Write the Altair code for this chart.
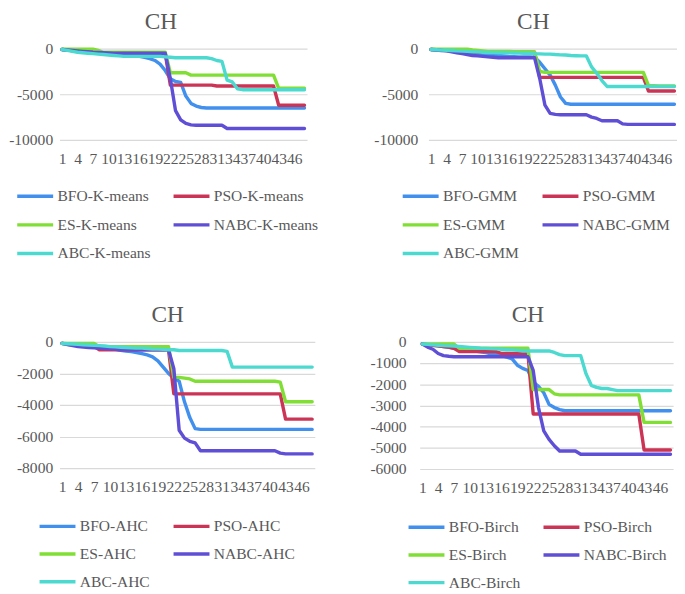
import altair as alt
import pandas as pd

iters = list(range(1, 49))
x_ticks = list(range(1, 47, 3))
prefixes = ["BFO", "PSO", "ES", "NABC", "ABC"]

# ---- K-means ----
bfo_kmeans = [-100, -150, -200, -250, -300, -350, -400, -450, -500, -550, -600, -650, -700, -750,
              -800, -850, -950, -1100, -1300, -1700, -2400, -3300, -3600, -3700, -5200, -6000,
              -6300, -6450] + [-6500] * 20
pso_kmeans = [-100, -120, -150, -180, -200, -250, -300, -400, -450, -480] + [-500] * 11 + \
             [-4000] * 9 + [-4100] * 12 + [-6200] * 6
es_kmeans = [-50] * 7 + [-200] + [-400] * 13 + [-2650] * 4 + [-2900] * 17 + [-4350] * 6
nabc_kmeans = [-100, -150, -200, -250, -300, -350, -400, -430, -460, -480] + [-500] * 11 + \
              [-3300, -6800, -7800, -8200, -8350] + [-8400] * 6 + [-8750] * 17
abc_kmeans = [-100, -200, -300, -400, -450, -500, -550, -600, -650, -700, -750, -800] + [-850] * 8 + \
             [-900, -950] + [-1000] * 7 + [-1100, -1300, -1400, -3450, -3650, -4400] + [-4500] * 13

# ---- GMM ----
bfo_gmm = [-100, -130, -160, -200, -250, -300, -350, -400, -470, -530, -600, -650, -700, -750, -800,
           -850, -880, -900, -900, -900, -950, -1500, -2200, -2900, -4000, -5300, -6000] + [-6100] * 21
pso_gmm = [-100, -120, -150, -180, -200, -230, -260, -300, -330, -350, -370, -400] + [-400] * 9 + \
          [-3150] * 21 + [-4650] * 6
es_gmm = [-50] * 8 + [-150, -200, -250, -300, -300, -300, -300, -300, -350, -350, -350, -350, -400] + \
         [-2500] + [-2600] * 20 + [-4050, -4050, -4100, -4100, -4100, -4100]
nabc_gmm = [-100, -150, -200, -250, -350, -450, -550, -650, -750, -800, -850, -900, -950] + [-1000] * 8 + \
           [-3300, -6200, -7100, -7200] + [-7250] * 6 + [-7500, -7650, -7900] + [-7900] * 3 + \
           [-8250] + [-8300] * 10
abc_gmm = [-100, -130, -160, -180, -200, -250, -280, -300, -330, -360, -400,
           -420, -440, -450, -460, -470, -480, -490, -500, -500,
           -550, -580, -600, -600, -650, -680, -700, -750, -780, -800, -800,
           -2000, -2700, -3500, -4150] + [-4150] * 13

# ---- AHC ----
bfo_ahc = [-100, -150, -200, -230, -260, -290, -320, -350, -380, -420, -480, -530, -580, -620, -680,
           -750, -830, -950, -1200, -1600, -2000, -2300, -2500, -3800, -4800, -5500] + [-5550] * 22
pso_ahc = [-100, -130, -160, -190, -220, -250, -280] + [-500] * 14 + [-3300] * 21 + [-4900] * 6
es_ahc = [-100] * 7 + [-300] * 14 + [-2250, -2250, -2300, -2350] + [-2500] * 16 + [-2550] + [-3800] * 6
nabc_ahc = [-100, -170, -230, -300, -330, -360, -380, -400, -420, -440, -460] + [-500] * 10 + \
           [-1700, -5600, -6100, -6300, -6400, -6900] + [-6900] * 14 + [-7050] + [-7100] * 6
abc_ahc = [-100, -120, -140, -160, -180, -200, -220, -240, -260, -300,
           -320, -340, -360, -380, -400, -400, -420,
           -450, -460, -480, -500, -500] + [-550] * 9 + [-600, -1600] + [-1600] * 15

# ---- Birch ----
bfo_birch = [-100, -130, -160, -190, -220, -260, -300, -330, -370, -400, -430, -470, -510, -560, -600,
             -650, -720, -800, -1100, -1250, -1350, -1900, -2100, -2400, -2950, -3100, -3200] + [-3250] * 21
pso_birch = [-100, -130, -160, -190, -220, -250, -300] + [-460] * 8 + [-550] * 6 + [-3400] * 21 + [-5100] * 6
es_birch = [-100] * 7 + [-300] * 14 + [-2250] * 4 + [-2450] + [-2500] * 16 + [-3800] * 6
nabc_birch = [-100, -250, -350, -550, -650, -680] + [-700] * 15 + \
             [-1350, -3100, -4200, -4600, -4900, -5150] + [-5150] * 3 + [-5300] + [-5300] * 17
abc_birch = [-100, -120, -140, -160, -180, -190, -200, -220, -240, -260, -280, -300, -310, -320, -330,
             -350, -370, -380, -400] + [-430] * 6 + [-500, -600, -650] + [-650] * 3 + \
            [-1500, -2050, -2150, -2200, -2200, -2250] + [-2300] * 11

COLORS = ["#4190ee", "#cc3456", "#80de35", "#5f4fd6", "#4bd9d0"]
FONT = "Liberation Serif"
GREY = "#595959"
GRID = "#d9d9d9"


def panel(algo, series, ydom, yvals, lab_pad, leg_x, leg_y, title_dx, w, h, row_pad):
    names = [f"{p}-{algo}" for p in prefixes]
    rows = []
    for name, vals in zip(names, series):
        for i, v in zip(iters, vals):
            rows.append({"iter": i, "value": v, "series": name})
    df = pd.DataFrame(rows)
    title = alt.TitleParams(text="CH", font=FONT, fontSize=24, fontWeight="normal", color=GREY,
                            frame="group", anchor="middle", dx=title_dx, offset=7)
    return alt.Chart(df, title=title).mark_line(
        strokeWidth=3.5, strokeCap="round", strokeJoin="round"
    ).encode(
        x=alt.X("iter:Q", scale=alt.Scale(domain=[0.5, 48.5], nice=False, zero=False),
                axis=alt.Axis(values=x_ticks, title=None, grid=False, domain=False, ticks=False,
                              labelOverlap=False, labelFlush=False, labelFont=FONT, labelFontSize=16,
                              labelColor=GREY, labelPadding=11)),
        y=alt.Y("value:Q", scale=alt.Scale(domain=ydom, nice=False, zero=False),
                axis=alt.Axis(values=yvals, title=None, grid=True, gridColor=GRID, gridWidth=1.2,
                              domain=False, ticks=False, labelFont=FONT, labelFontSize=16,
                              labelColor=GREY, labelPadding=lab_pad, labelExpr="'' + datum.value")),
        color=alt.Color("series:N", scale=alt.Scale(domain=names, range=COLORS),
                        legend=alt.Legend(title=None, orient="none", legendX=leg_x, legendY=leg_y,
                                          direction="horizontal", columns=2,
                                          symbolType="M-3,0H3", symbolSize=152,
                                          symbolStrokeWidth=3.5, labelFont=FONT, labelFontSize=16,
                                          labelColor=GREY, labelOffset=15, columnPadding=16,
                                          rowPadding=row_pad)),
    ).properties(width=w, height=h)


p1 = panel("K-means", [bfo_kmeans, pso_kmeans, es_kmeans, nabc_kmeans, abc_kmeans],
           [-10000, 0], [0, -5000, -10000], 7, -33, 144, -23, 255, 94, 13.5)
p2 = panel("GMM", [bfo_gmm, pso_gmm, es_gmm, nabc_gmm, abc_gmm],
           [-10000, 0], [0, -5000, -10000], 11, -16, 144, -20, 256, 94, 13.5)
p3 = panel("AHC", [bfo_ahc, pso_ahc, es_ahc, nabc_ahc, abc_ahc],
           [-8000, 0], [0, -2000, -4000, -6000, -8000], 7, -10, 182, -20, 263, 130, 12.5)
p4 = panel("Birch", [bfo_birch, pso_birch, es_birch, nabc_birch, abc_birch],
           [-6000, 0], [0, -1000, -2000, -3000, -4000, -5000, -6000], 14, -1, 183, -19, 261, 131, 12.5)

row1 = alt.hconcat(p1, p2, spacing=56).resolve_scale(color="independent")
row2 = alt.hconcat(p3, p4, spacing=56).resolve_scale(color="independent")
chart = alt.vconcat(row1, row2, spacing=44).resolve_scale(color="independent").properties(
    padding={"left": 0, "right": 0, "top": -6, "bottom": 0}
).configure_view(stroke=None)

chart.save("out.html", embed_options={"renderer": "svg", "actions": False})
